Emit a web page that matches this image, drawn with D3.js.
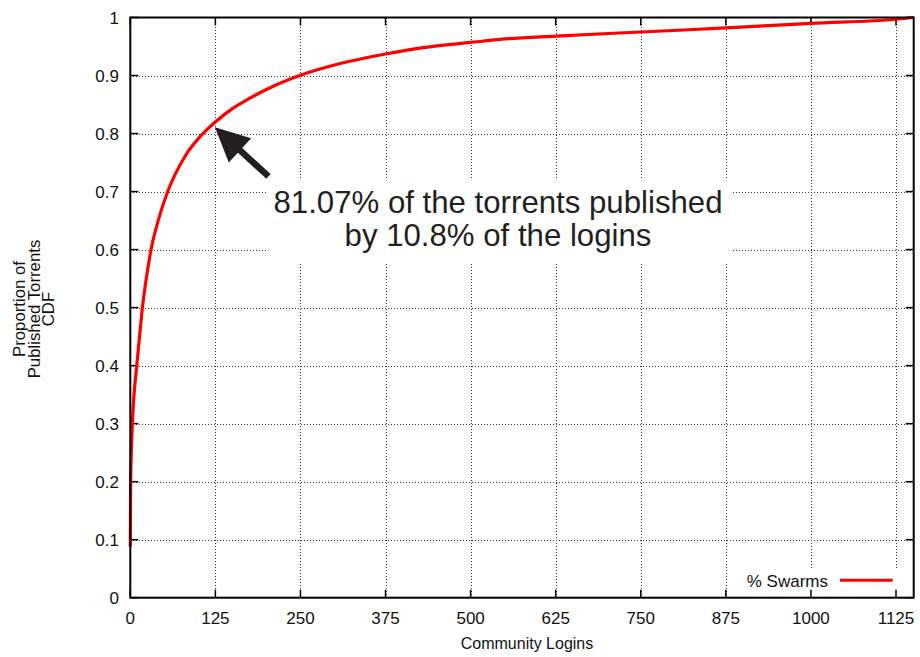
<!DOCTYPE html>
<html>
<head>
<meta charset="utf-8">
<script src="https://cdn.jsdelivr.net/npm/d3@7"></script>
<style>
  html, body { margin: 0; padding: 0; background: #fff; }
  svg { display: block; font-family: "Liberation Sans", Arial, Helvetica, sans-serif; }
</style>
</head>
<body>
<svg id="chart" width="920" height="657"></svg>
<script>
// Community logins (x) and cumulative share of published torrents (y)
const logins = [0, 0.5, 1.5, 3, 5.5, 9.5, 13.6, 17.8, 23.5, 30.5, 41, 55, 80, 106, 125, 150, 175, 200, 250, 300, 375, 430, 500, 550, 625, 750, 875, 1000, 1125, 1151];
const cdf    = [0.088, 0.2, 0.25, 0.3, 0.35, 0.4, 0.45, 0.5, 0.55, 0.6, 0.65, 0.7, 0.76, 0.799, 0.82, 0.843, 0.8605, 0.876, 0.9005, 0.918, 0.937, 0.948, 0.957, 0.963, 0.968, 0.975, 0.982, 0.99, 0.997, 1.0];

const xTicks = [0, 125, 250, 375, 500, 625, 750, 875, 1000, 1125];
const yTicks = [0, 0.1, 0.2, 0.3, 0.4, 0.5, 0.6, 0.7, 0.8, 0.9, 1];
const xMax = 1151;

const seriesName = "% Swarms";
const xTitle = "Community Logins";
const yTitle = ["Proportion of", "Published Torrents", "CDF"];
const noteLines = ["81.07% of the torrents published", "by 10.8% of the logins"];
// arrow: tip at the highlighted point, tail toward the note
const arrowTip = [124.3, 0.8107];
const arrowTail = [203, 0.726];

const W = 920, H = 657;
const m = { left: 130.3, top: 17.5, right: 920 - 913.7, bottom: 657 - 597.7 };

const svg = d3.select("#chart");
const x = d3.scaleLinear().domain([0, xMax]).range([m.left, W - m.right]);
const y = d3.scaleLinear().domain([0, 1]).range([H - m.bottom, m.top]);

const x0 = x.range()[0], x1 = x.range()[1], y0 = y.range()[0], y1 = y.range()[1];

// dotted grid
const grid = svg.append("g").attr("stroke", "#333").attr("stroke-width", 1)
  .attr("stroke-dasharray", "1,2").attr("shape-rendering", "crispEdges");
grid.selectAll(".vx").data(xTicks.filter(d => d > 0)).join("line")
  .attr("x1", d => Math.round(x(d)) + 0.5).attr("x2", d => Math.round(x(d)) + 0.5)
  .attr("y1", y1).attr("y2", y0);
grid.selectAll(".hy").data(yTicks.filter(d => d > 0 && d < 1)).join("line")
  .attr("x1", x0).attr("x2", x1)
  .attr("y1", d => Math.round(y(d)) + 0.5).attr("y2", d => Math.round(y(d)) + 0.5);

// white panels behind the note and the key
svg.append("rect").attr("x", 268).attr("y", 178).attr("width", 465).attr("height", 85).attr("fill", "#fff");
svg.append("rect").attr("x", 736).attr("y", 570).attr("width", 168).attr("height", 26).attr("fill", "#fff");

// axes: ticks inward on all four sides
const tickLen = 8;
const ax = svg.append("g").attr("stroke", "#000").attr("stroke-width", 1.5);
ax.selectAll(".tb").data(xTicks).join("line")
  .attr("x1", d => x(d)).attr("x2", d => x(d)).attr("y1", y0).attr("y2", y0 - tickLen);
ax.selectAll(".tt").data(xTicks).join("line")
  .attr("x1", d => x(d)).attr("x2", d => x(d)).attr("y1", y1).attr("y2", y1 + tickLen);
ax.selectAll(".tl").data(yTicks).join("line")
  .attr("x1", x0).attr("x2", x0 + tickLen).attr("y1", d => y(d)).attr("y2", d => y(d));
ax.selectAll(".tr").data(yTicks).join("line")
  .attr("x1", x1).attr("x2", x1 - tickLen).attr("y1", d => y(d)).attr("y2", d => y(d));

// tick labels
svg.append("g").selectAll("text").data(xTicks).join("text")
  .attr("x", d => x(d)).attr("y", 624).attr("text-anchor", "middle")
  .attr("font-size", 17).attr("fill", "#111").text(d => d);
svg.append("g").selectAll("text").data(yTicks).join("text")
  .attr("x", 119).attr("y", d => y(d)).attr("dy", "0.36em").attr("text-anchor", "end")
  .attr("font-size", 17).attr("fill", "#111").text(d => d);

// axis titles
svg.append("text").attr("x", 527).attr("y", 649).attr("text-anchor", "middle")
  .attr("font-size", 16).attr("fill", "#111").text(xTitle);
const yt = svg.append("text").attr("transform", "translate(0,309) rotate(-90)")
  .attr("text-anchor", "middle").attr("font-size", 16.8).attr("fill", "#111");
yTitle.forEach((t, i) => yt.append("tspan").attr("x", 0).attr("y", 25 + i * 14.5).text(t));

// CDF curve
const line = d3.line().x(d => x(d[0])).y(d => y(d[1])).curve(d3.curveMonotoneX);
svg.append("path").datum(logins.map((v, i) => [v, cdf[i]]))
  .attr("d", line).attr("fill", "none").attr("stroke", "#ff0000").attr("stroke-width", 3.2)
  .attr("stroke-linejoin", "round");

// frame
svg.append("rect").attr("x", x0).attr("y", y1).attr("width", x1 - x0).attr("height", y0 - y1)
  .attr("fill", "none").attr("stroke", "#000").attr("stroke-width", 2);

// key
svg.append("text").attr("x", 828).attr("y", 586.5).attr("text-anchor", "end")
  .attr("font-size", 17).attr("fill", "#111").text(seriesName);
svg.append("line").attr("x1", 840).attr("x2", 892.7).attr("y1", 580.3).attr("y2", 580.3)
  .attr("stroke", "#ff0000").attr("stroke-width", 3);

// annotation arrow
const tip = [x(arrowTip[0]), y(arrowTip[1])];
const tail = [x(arrowTail[0]), y(arrowTail[1])];
const ang = Math.atan2(tail[1] - tip[1], tail[0] - tip[0]);
const headLen = 34, headHalf = 16.5;
const ux = Math.cos(ang), uy = Math.sin(ang);
const base = [tip[0] + ux * headLen, tip[1] + uy * headLen];
svg.append("line").attr("x1", base[0] - ux * 2).attr("y1", base[1] - uy * 2)
  .attr("x2", tail[0]).attr("y2", tail[1]).attr("stroke", "#231f20").attr("stroke-width", 6.5);
svg.append("path").attr("fill", "#231f20").attr("d", d3.line()([
  tip,
  [base[0] - uy * headHalf, base[1] + ux * headHalf],
  [base[0] + uy * headHalf, base[1] - ux * headHalf]
]) + "Z");

// annotation text
svg.append("g").selectAll("text").data(noteLines).join("text")
  .attr("x", 498).attr("y", (d, i) => 212.7 + i * 33.2).attr("text-anchor", "middle")
  .attr("font-size", 31.2).attr("fill", "#231f20").text(d => d);
</script>
</body>
</html>
